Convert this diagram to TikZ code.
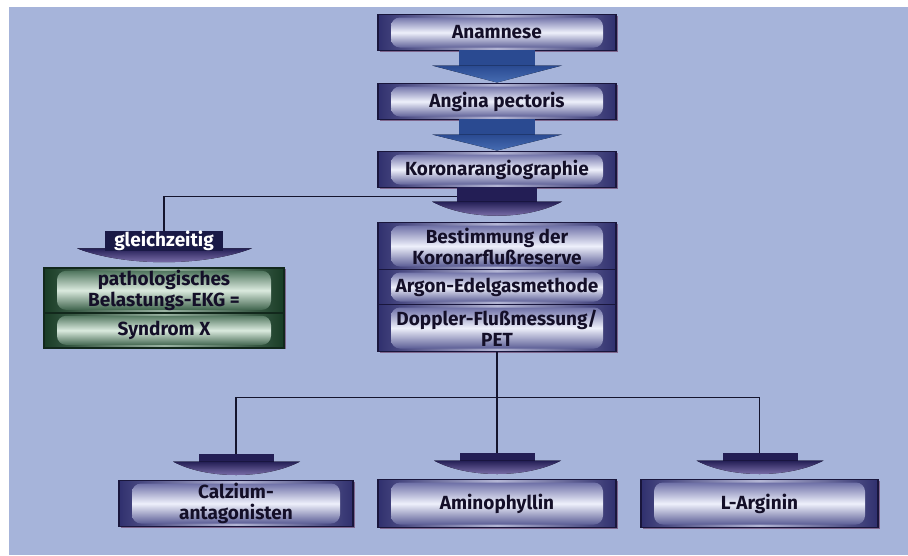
\documentclass[tikz,border=0pt]{standalone}
\usepackage{fontspec}
\setmainfont{Fira Sans}
\usepackage{tikz}
\usetikzlibrary{positioning,calc,shadows}
\definecolor{bgblue}{RGB}{166,180,218}
\definecolor{boxline}{RGB}{25,22,60}
\definecolor{bevtop}{RGB}{92,94,155}
\definecolor{bevmid}{RGB}{238,240,251}
\definecolor{bevbot}{RGB}{70,72,135}
\definecolor{bevside}{RGB}{48,48,110}
\definecolor{boxtext}{RGB}{20,15,40}
\definecolor{greenline}{RGB}{18,40,28}
\definecolor{greentop}{RGB}{60,100,75}
\definecolor{greenmid}{RGB}{218,234,222}
\definecolor{greenbot}{RGB}{40,80,55}
\definecolor{greenside}{RGB}{25,60,38}
\definecolor{navy}{RGB}{25,25,70}
\definecolor{arrowblue}{RGB}{42,74,145}
\definecolor{arrowblue2}{RGB}{70,108,178}
\definecolor{arrowdark}{RGB}{35,30,85}
\definecolor{arrowlight}{RGB}{150,135,195}
\definecolor{linec}{RGB}{20,20,45}
\definecolor{shadowc}{RGB}{100,50,90}
\tikzstyle{bevelbox} = [rectangle, draw=boxline, line width=1.5pt, outer sep=0pt, inner sep=0pt, left color=bevside, right color=bevside, middle color=bevtop!40!bevmid, text=boxtext, font=\fontsize{19}{21}\selectfont\bfseries, align=center, minimum width=238pt, minimum height=36pt, drop shadow={shadow xshift=1.5pt, shadow yshift=-1.5pt, fill=shadowc, opacity=.6}, path picture={\shade[top color=bevtop, bottom color=bevbot, middle color=bevmid, rounded corners=9pt] ([xshift=13pt, yshift=-3pt]path picture bounding box.north west) rectangle ([xshift=-13pt, yshift=3pt]path picture bounding box.south east);}]
\tikzstyle{greenbox} = [bevelbox, draw=greenline, left color=greenside, right color=greenside, middle color=greentop!40!greenmid, minimum width=240pt, path picture={\shade[top color=greentop, bottom color=greenbot, middle color=greenmid, rounded corners=9pt] ([xshift=13pt, yshift=-3pt]path picture bounding box.north west) rectangle ([xshift=-13pt, yshift=3pt]path picture bounding box.south east);}]
\tikzstyle{tagbox} = [rectangle, fill=navy, text=white, inner sep=0pt, outer sep=0pt, minimum width=118pt, minimum height=19pt, font=\fontsize{19}{21}\selectfont\bfseries]
\tikzstyle{conn} = [draw=linec, line width=1.8pt, line join=miter]
\tikzstyle{bluestem} = [fill=arrowblue]
\tikzstyle{bluehead} = [top color=arrowblue, bottom color=arrowblue2]
\tikzstyle{darkstem} = [fill=arrowdark]
\tikzstyle{darkhead} = [top color=arrowdark, bottom color=arrowlight]
% fat arrow between two stacked boxes
\newcommand{\fatarrow}[2]{%
  \fill[bluestem] ($(#1.south)+(-38,-1)$) rectangle ($(#1.south)+(38,15.5)$);
  \fill[bluehead] ($(#1.south)+(-65,15)$) -- ($(#1.south)+(65,15)$) -- ($(#2.north)+(0,-1)$) -- cycle;}
% small arrow dropping onto a box
\newcommand{\dropper}[1]{%
  \fill[darkstem] ($(#1.north)+(-37,-27)$) rectangle ($(#1.north)+(38,-18.5)$);
  \fill[darkhead] ($(#1.north)+(-63,-19)$) -- ($(#1.north)+(64,-19)$) .. controls ($(#1.north)+(30,-1)$) and ($(#1.north)+(-30,-1)$) .. cycle;}
\begin{document}
\begin{tikzpicture}[x=1pt,y=-1pt]
\useasboundingbox (0,0) rectangle (908,555);
\fill[white] (0,0) rectangle (908,555);
\fill[bgblue] (9,7) rectangle (908,555);

% main column
\node[bevelbox] (anam) at (497,32.5) {Anamnese};
\node[bevelbox, below=33pt of anam] (angina) {Angina pectoris};
\node[bevelbox, below=32pt of angina] (koro) {Koronarangiographie};

\node[bevelbox, below=35pt of koro, minimum height=47pt] (bestA) {Bestimmung der\\Koronarflußreserve};
\node[bevelbox, below=0pt of bestA, minimum height=35pt] (bestB) {Argon-Edelgasmethode};
\node[bevelbox, below=0pt of bestB, minimum height=47pt] (bestC) {Doppler-Flußmessung/\\PET};

% side branch
\node[tagbox] (gleich) at (164,241) {gleichzeitig};
\node[greenbox, below=17pt of gleich, minimum height=45pt] (greenA) {pathologisches\\Belastungs-EKG =};
\node[greenbox, below=0pt of greenA, minimum height=35pt] (greenB) {Syndrom X};

% bottom row
\node[bevelbox, below=128pt of bestC, minimum height=48pt] (amino) {Aminophyllin};
\node[bevelbox, left=25pt of amino, minimum width=234pt, minimum height=46pt] (calz) {Calzium-\\antagonisten};
\node[bevelbox, right=25pt of amino, minimum width=237pt, minimum height=48pt] (larg) {L-Arginin};

% connectors
\draw[conn] ($(koro.south)+(0,9)$) -| (gleich.north);
\draw[conn] (bestC.south) -- ++(0,46) coordinate (fork);
\draw[conn] ($(calz.north)+(0,-27)$) |- (fork) -| ($(larg.north)+(0,-27)$);
\draw[conn] (fork) -- ($(amino.north)+(0,-27)$);

% arrows
\fatarrow{anam}{angina}
\fatarrow{angina}{koro}
\fill[darkstem] ($(koro.south)+(-40,-1)$) rectangle ($(koro.south)+(40,14.5)$);
\fill[darkhead] ($(koro.south)+(-65,14)$) -- ($(koro.south)+(65,14)$) .. controls ($(bestA.north)+(30,-2)$) and ($(bestA.north)+(-30,-2)$) .. cycle;
\fill[darkhead] ($(gleich.south)+(-87,-2.5)$) -- ($(gleich.south)+(88,-2.5)$) .. controls ($(gleich.south)+(40,16)$) and ($(gleich.south)+(-40,16)$) .. cycle;
\node[tagbox] at (gleich) {gleichzeitig};
\dropper{calz}
\dropper{amino}
\dropper{larg}
\end{tikzpicture}
\end{document}
